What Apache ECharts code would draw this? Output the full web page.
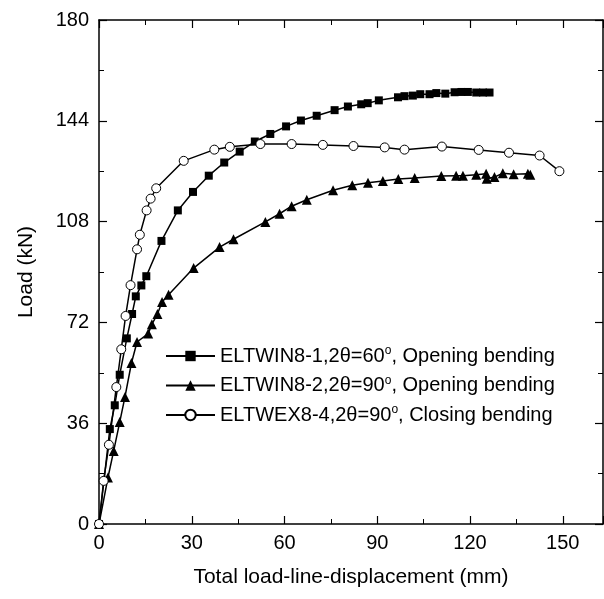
<!DOCTYPE html>
<html>
<head>
<meta charset="utf-8">
<script src="https://cdn.jsdelivr.net/npm/echarts@6/dist/echarts.min.js"></script>
<style>
html,body{margin:0;padding:0;background:#fff;}
#chart{width:604px;height:599px;}
</style>
</head>
<body>
<div id="chart"></div>
<script>
// ---- data ----
var seriesNames = [
  'ELTWIN8-1,2θ=60{sup|o}, Opening bending',
  'ELTWIN8-2,2θ=90{sup|o}, Opening bending',
  'ELTWEX8-4,2θ=90{sup|o}, Closing bending'
];
var win81 = [[0,0],[3.5,33.9],[5.1,42.4],[6.7,53.3],[9.0,66.3],[10.7,75.0],[11.9,81.3],[13.7,85.2],[15.3,88.5],[20.2,101.1],[25.5,112.0],[30.4,118.6],[35.5,124.4],[40.5,129.1],[45.5,133.0],[50.4,136.6],[55.4,139.3],[60.5,142.0],[65.3,144.1],[70.4,145.8],[76.2,147.8],[80.5,149.1],[84.8,149.9],[86.9,150.3],[90.5,151.3],[96.7,152.4],[98.8,152.8],[101.5,153.0],[103.9,153.5],[106.9,153.5],[109.1,153.9],[112.0,153.7],[115.0,154.2],[117.2,154.3],[119.3,154.3],[122.0,154.1],[124.2,154.1],[126.3,154.1]];
var win82 = [[0,0],[2.9,16.6],[4.75,26.1],[6.7,36.4],[8.4,45.4],[10.5,57.5],[12.3,65.0],[15.9,68.0],[17.1,71.3],[18.9,75.0],[20.4,79.3],[22.5,81.9],[30.6,91.4],[39.0,98.9],[43.5,101.7],[53.8,107.9],[58.4,110.8],[62.3,113.5],[67.2,115.8],[75.7,119.2],[81.9,121.0],[87.0,121.9],[91.8,122.5],[96.8,123.2],[102.1,123.6],[110.7,124.3],[115.5,124.4],[117.7,124.4],[122.0,124.7],[125.2,125.1],[125.4,123.3],[127.9,123.9],[130.6,125.3],[134.1,124.9],[138.7,125.1],[139.5,124.7]];
var wex84 = [[0,0],[1.5,15.4],[3.2,28.3],[5.6,48.9],[7.2,62.4],[8.6,74.3],[10.2,85.3],[12.3,98.1],[13.2,103.3],[15.4,112.0],[16.7,116.2],[18.5,119.9],[27.4,129.7],[37.3,133.7],[42.3,134.7],[52.2,135.7],[62.3,135.7],[72.4,135.4],[82.3,135.0],[92.4,134.5],[98.8,133.7],[110.9,134.8],[122.8,133.6],[132.6,132.6],[142.5,131.6],[148.9,126.0]];
var xTicks = [0,30,60,90,120,150];
var yTicks = [0,36,72,108,144,180];

var FONT = 'Liberation Sans, Arial, sans-serif';
var chart = echarts.init(document.getElementById('chart'), null, {renderer:'canvas'});

function axisCommon(show){
  return {
    axisLine:{show:true, onZero:false, lineStyle:{color:'#000', width:1.5}},
    axisTick:{show:true, inside:true, length:8, lineStyle:{color:'#000', width:1.2}},
    minorTick:{show:true, splitNumber:2, length:5, lineStyle:{color:'#000', width:1}},
    splitLine:{show:false},
    axisLabel:{show:show, color:'#000', fontFamily:FONT, fontSize:20}
  };
}
var xa = axisCommon(true);
xa.type='value'; xa.min=0; xa.max=163; xa.interval=30; xa.position='bottom';
xa.axisLabel.margin=9; xa.axisLabel.showMaxLabel=false;
xa.axisLabel.formatter=function(v){return xTicks.indexOf(v)>=0 ? String(v) : '';};
xa.name='Total load-line-displacement (mm)'; xa.nameLocation='middle'; xa.nameGap=43;
xa.nameTextStyle={color:'#000', fontFamily:FONT, fontSize:21};
var xa2 = axisCommon(false);
xa2.type='value'; xa2.min=0; xa2.max=163; xa2.interval=30; xa2.position='top';

var ya = axisCommon(true);
ya.type='value'; ya.min=0; ya.max=180; ya.interval=36; ya.position='left';
ya.axisLabel.margin=10;
ya.axisLabel.formatter=function(v){return yTicks.indexOf(v)>=0 ? String(v) : '';};
ya.name='Load (kN)'; ya.nameLocation='middle'; ya.nameGap=62;
ya.nameTextStyle={color:'#000', fontFamily:FONT, fontSize:21};
var ya2 = axisCommon(false);
ya2.type='value'; ya2.min=0; ya2.max=180; ya2.interval=36; ya2.position='right';

function mkSeries(name, data, symbol, size, fill){
  return {
    name:name, type:'line', data:data, xAxisIndex:0, yAxisIndex:0,
    symbol:symbol, symbolSize:size, showAllSymbol:true,
    lineStyle:{color:'#000', width:1.5},
    itemStyle:{color:fill, borderColor:'#000', borderWidth:fill==='#fff'?1:0},
    animation:false, z:2
  };
}

chart.setOption({
  backgroundColor:'#fff',
  animation:false,
  grid:{left:99, top:20, right:1, bottom:75, containLabel:false},
  xAxis:[xa, xa2],
  yAxis:[ya, ya2],
  legend:{
    left:160, top:340, orient:'vertical', itemWidth:49, itemHeight:13, itemGap:8.5,
    data:seriesNames,
    textStyle:{color:'#000', fontFamily:FONT, fontSize:20,
      rich:{sup:{fontSize:12, fontFamily:FONT, color:'#000', verticalAlign:'top', padding:[0,0,10,0]}}},
    formatter:function(n){return n;}
  },
  series:[
    mkSeries(seriesNames[0], win81, 'rect', 8, '#000'),
    mkSeries(seriesNames[1], win82, 'triangle', 10, '#000'),
    mkSeries(seriesNames[2], wex84, 'circle', 9, '#fff')
  ]
});
</script>
</body>
</html>
